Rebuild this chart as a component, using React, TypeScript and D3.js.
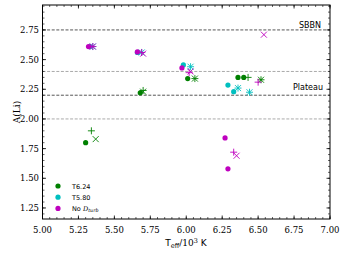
import React from "react";
import * as d3 from "d3";

const W = 346, H = 254;
const M = { left: 42.5, right: 330, top: 5, bottom: 219 };

const xTicks = [5.0, 5.25, 5.5, 5.75, 6.0, 6.25, 6.5, 6.75, 7.0];
const yTicks = [1.25, 1.5, 1.75, 2.0, 2.25, 2.5, 2.75];

const refLevels = [2.75, 2.4, 2.2, 2.0];
const refDark = [true, false, true, false];

const groupLabels = ["T6.24", "T5.80", "No "];
const groupColors = ["#008000", "#00bfbf", "#bf00bf"];

// Green (T6.24)
const gCircT = [5.30, 5.68, 6.01, 6.36, 6.40];
const gCircA = [1.80, 2.22, 2.34, 2.35, 2.35];
const gPlusT = [5.34, 5.70, 6.06, 6.43, 6.52];
const gPlusA = [1.90, 2.24, 2.34, 2.35, 2.33];
const gCrossT = [5.37, 5.70, 6.06, 6.52];
const gCrossA = [1.83, 2.23, 2.34, 2.33];

// Cyan (T5.80)
const cCircT = [5.33, 5.66, 5.98, 6.29, 6.33];
const cCircA = [2.61, 2.56, 2.455, 2.285, 2.23];
const cPlusT = [5.35, 5.69, 6.03, 6.36, 6.44];
const cPlusA = [2.61, 2.56, 2.44, 2.26, 2.225];
const cCrossT = [5.35, 5.69, 6.03, 6.36, 6.44];
const cCrossA = [2.61, 2.56, 2.44, 2.26, 2.225];

// Magenta (No D_turb)
const mCircT = [5.32, 5.66, 5.97, 6.27, 6.29];
const mCircA = [2.61, 2.565, 2.43, 1.84, 1.58];
const mPlusT = [5.35, 5.69, 6.02, 6.33, 6.50];
const mPlusA = [2.61, 2.56, 2.39, 1.72, 2.31];
const mCrossT = [5.35, 5.70, 6.03, 6.35, 6.54];
const mCrossA = [2.61, 2.55, 2.40, 1.69, 2.71];

const series = [
  { color: 0, circ: [gCircT, gCircA], plus: [gPlusT, gPlusA], cross: [gCrossT, gCrossA] },
  { color: 1, circ: [cCircT, cCircA], plus: [cPlusT, cPlusA], cross: [cCrossT, cCrossA] },
  { color: 2, circ: [mCircT, mCircA], plus: [mPlusT, mPlusA], cross: [mCrossT, mCrossA] },
];

export default function App() {
  const x = d3.scaleLinear().domain([5, 7]).range([M.left, M.right]);
  const y = d3.scaleLinear().domain([1.157, 2.96]).range([M.bottom, M.top]);
  const xMinor = d3.range(5.0, 7.0001, 0.05);
  const yMinor = d3.range(1.2, 2.951, 0.05);
  const serif = "DejaVu Serif";
  const sans = "DejaVu Sans";
  return (
    <svg width={W} height={H} style={{ position: "absolute", left: 0, top: 0, background: "#fff" }}>
      {refLevels.map((v, i) => (
        <line key={"r" + i} x1={M.left} x2={M.right} y1={y(v)} y2={y(v)}
          stroke={refDark[i] ? "#555" : "#aaa"} strokeWidth={1} strokeDasharray="3,1.6" />
      ))}
      <text x={321} y={27.5} fontFamily={sans} fontSize={8} textAnchor="end" fill="#000">SBBN</text>
      <text x={323} y={89.5} fontFamily={sans} fontSize={8} textAnchor="end" fill="#000">Plateau</text>

      {series.map((s, si) => {
        const col = groupColors[s.color];
        return (
          <g key={"s" + si}>
            {s.circ[0].map((t, i) => (
              <circle key={"c" + i} cx={x(t)} cy={y(s.circ[1][i])} r={2.6} fill={col} />
            ))}
            {s.plus[0].map((t, i) => {
              const cx = x(t), cy = y(s.plus[1][i]), r = 3.5;
              return (
                <path key={"p" + i} d={`M${cx - r},${cy}H${cx + r}M${cx},${cy - r}V${cy + r}`} stroke={col} strokeWidth={0.9} fill="none" />
              );
            })}
            {s.cross[0].map((t, i) => {
              const cx = x(t), cy = y(s.cross[1][i]), r = 3;
              return (
                <path key={"x" + i} d={`M${cx - r},${cy - r}L${cx + r},${cy + r}M${cx - r},${cy + r}L${cx + r},${cy - r}`} stroke={col} strokeWidth={0.9} fill="none" />
              );
            })}
          </g>
        );
      })}

      {/* frame */}
      <rect x={M.left} y={M.top} width={M.right - M.left} height={M.bottom - M.top} fill="none" stroke="#000" strokeWidth={1} />
      {xMinor.map((v, i) => (
        <g key={"xm" + i}>
          <line x1={x(v)} x2={x(v)} y1={M.bottom} y2={M.bottom - 2} stroke="#000" strokeWidth={0.6} />
          <line x1={x(v)} x2={x(v)} y1={M.top} y2={M.top + 2} stroke="#000" strokeWidth={0.6} />
        </g>
      ))}
      {yMinor.map((v, i) => (
        <g key={"ym" + i}>
          <line x1={M.left} x2={M.left + 2} y1={y(v)} y2={y(v)} stroke="#000" strokeWidth={0.6} />
          <line x1={M.right} x2={M.right - 2} y1={y(v)} y2={y(v)} stroke="#000" strokeWidth={0.6} />
        </g>
      ))}
      {xTicks.map((v, i) => (
        <g key={"xt" + i}>
          <line x1={x(v)} x2={x(v)} y1={M.bottom} y2={M.bottom - 3.5} stroke="#000" strokeWidth={0.8} />
          <line x1={x(v)} x2={x(v)} y1={M.top} y2={M.top + 3.5} stroke="#000" strokeWidth={0.8} />
          <text x={x(v)} y={233} fontFamily={serif} fontSize={8.5} textAnchor="middle" fill="#000">{v.toFixed(2)}</text>
        </g>
      ))}
      {yTicks.map((v, i) => (
        <g key={"yt" + i}>
          <line x1={M.left} x2={M.left + 3.5} y1={y(v)} y2={y(v)} stroke="#000" strokeWidth={0.8} />
          <line x1={M.right} x2={M.right - 3.5} y1={y(v)} y2={y(v)} stroke="#000" strokeWidth={0.8} />
          <text x={39} y={y(v) + 3} fontFamily={serif} fontSize={8.5} textAnchor="end" fill="#000">{v.toFixed(2)}</text>
        </g>
      ))}

      {groupLabels.map((lab, i) => (
        <g key={"l" + i}>
          <circle cx={58} cy={186 + i * 11.2} r={2.6} fill={groupColors[i]} />
          <text x={72} y={188.5 + i * 11.2} fontFamily={sans} fontSize={6.5} fill="#000" xmlSpace="preserve">
            {lab}
            {i === 2 ? <tspan fontFamily={serif} fontStyle="italic" fontSize={6.5}>D</tspan> : null}
            {i === 2 ? <tspan fontFamily={serif} fontStyle="italic" fontSize={4.8} dy={1.5}>turb</tspan> : null}
          </text>
        </g>
      ))}

      <text x={186} y={246} fontFamily={sans} fontSize={9} textAnchor="middle" fill="#000">
        T<tspan fontSize={6.5} dy={1.8}>eff</tspan>
        <tspan fontFamily={serif} fontSize={9} dy={-1.8}>/10</tspan>
        <tspan fontFamily={serif} fontSize={6.5} dy={-3.5}>3</tspan>
        <tspan fontSize={9} dy={3.5}> K</tspan>
      </text>
      <text transform={`translate(19.5,112) rotate(-90)`} fontFamily={serif} fontSize={9} textAnchor="middle" fill="#000">A(Li)</text>
    </svg>
  );
}
